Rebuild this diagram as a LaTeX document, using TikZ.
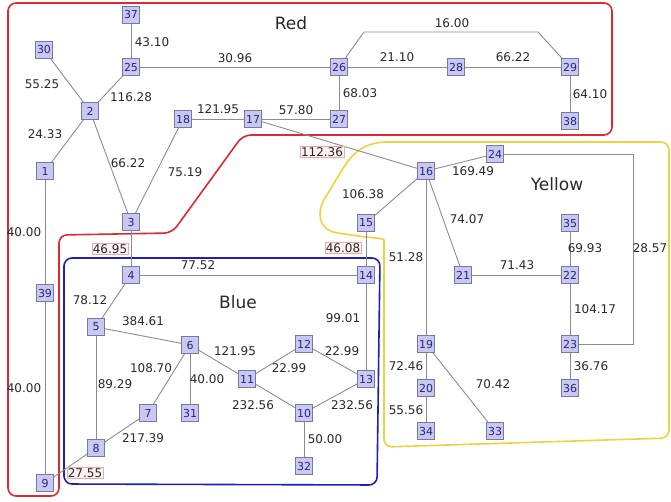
\documentclass[tikz,border=0pt]{standalone}
\usepackage{fontspec}
\setmainfont{DejaVu Sans}
\definecolor{vfill}{RGB}{200,200,242}
\definecolor{vdraw}{RGB}{120,120,165}
\definecolor{vtext}{RGB}{40,40,120}
\definecolor{edgecol}{RGB}{140,140,140}
\definecolor{labtext}{RGB}{40,40,40}
\definecolor{pinkdraw}{RGB}{232,170,170}
\definecolor{pinkfill}{RGB}{255,242,242}
\definecolor{redreg}{RGB}{222,40,50}
\definecolor{bluereg}{RGB}{30,30,185}
\definecolor{yelreg}{RGB}{240,210,60}
\tikzset{
  vtx/.style={draw=vdraw, fill=vfill, text=vtext, minimum size=17pt, inner sep=0.5pt,
    font=\fontsize{11}{11}\selectfont, line width=0.6pt},
  elab/.style={font=\fontsize{12}{12}\selectfont, text=labtext, inner sep=1pt},
  blab/.style={elab, draw=pinkdraw, fill=pinkfill, inner sep=1pt, line width=0.6pt},
  edge/.style={draw=edgecol, line width=0.9pt},
  region/.style={line width=1.6pt, rounded corners=8pt},
  title/.style={font=\fontsize{17}{17}\selectfont, text=labtext}
}
\begin{document}
\begin{tikzpicture}[x=1pt,y=-1pt]
\useasboundingbox (0,0) rectangle (671,502);
% regions
\draw[region, draw=redreg] (8,3) -- (612,3) -- (612,135) -- (243,135) -- (172,233) -- (59,235) -- (59,496) -- (8,496) -- cycle;
\draw[region, draw=bluereg] (64,258) -- (380,258) -- (377,485) -- (64,484) -- cycle;
\draw[line width=1.6pt, draw=yelreg, rounded corners=8pt] (669,142) -- (669,438) -- (384,447) -- (384,248)
  .. controls (384,238) and (370,238) .. (345,234)
  .. controls (318,230) and (316,212) .. (330,190)
  .. controls (345,165) and (355,142) .. (395,142) -- cycle;
% titles
\node[title] (tRed) at (291,23) {Red};
\node[title] (tYellow) at (557,184) {Yellow};
\node[title] (tBlue) at (238,302) {Blue};
% vertices
\node[vtx] (37) at (131,15) {37};
\node[vtx] (30) at (44,50) {30};
\node[vtx] (25) at (131,67) {25};
\node[vtx] (26) at (339,67) {26};
\node[vtx] (28) at (456,67) {28};
\node[vtx] (29) at (570,67) {29};
\node[vtx] (2) at (90,111) {2};
\node[vtx] (18) at (183,119) {18};
\node[vtx] (17) at (253,119) {17};
\node[vtx] (27) at (339,119) {27};
\node[vtx] (38) at (570,121) {38};
\node[vtx] (1) at (45,171) {1};
\node[vtx] (16) at (426,171) {16};
\node[vtx] (24) at (495,154) {24};
\node[vtx] (15) at (366,223) {15};
\node[vtx] (35) at (570,223) {35};
\node[vtx] (3) at (131,222) {3};
\node[vtx] (21) at (463,275) {21};
\node[vtx] (22) at (570,275) {22};
\node[vtx] (4) at (131,275) {4};
\node[vtx] (14) at (366,275) {14};
\node[vtx] (39) at (45,293) {39};
\node[vtx] (5) at (96,327) {5};
\node[vtx] (6) at (190,345) {6};
\node[vtx] (12) at (304,344) {12};
\node[vtx] (11) at (247,379) {11};
\node[vtx] (13) at (366,379) {13};
\node[vtx] (19) at (426,344) {19};
\node[vtx] (23) at (570,344) {23};
\node[vtx] (20) at (426,388) {20};
\node[vtx] (36) at (570,388) {36};
\node[vtx] (7) at (148,413) {7};
\node[vtx] (31) at (190,413) {31};
\node[vtx] (10) at (304,413) {10};
\node[vtx] (8) at (96,448) {8};
\node[vtx] (34) at (426,431) {34};
\node[vtx] (33) at (495,431) {33};
\node[vtx] (32) at (304,466) {32};
\node[vtx] (9) at (45,483) {9};
% helper coordinates
\coordinate (ta) at (364,32);
\coordinate (tb) at (538,32);
\coordinate (ra) at (633,154);
% edges
\draw[edge] (37) -- (25);
\draw[edge] (30) -- (2);
\draw[edge] (25) -- (2);
\draw[edge] (25) -- (26);
\draw[edge] (2) -- (1);
\draw[edge] (2) -- (3);
\draw[edge] (18) -- (3);
\draw[edge] (18) -- (17);
\draw[edge] (17) -- (27);
\draw[edge] (27) -- (26);
\draw[edge] (17) -- (16);
\draw[edge] (26) -- (28);
\draw[edge] (28) -- (29);
\draw[edge] (26) -- (ta) -- (tb) -- (29);
\draw[edge] (29) -- (38);
\draw[edge] (1) -- (39);
\draw[edge] (39) -- (9);
\draw[edge] (3) -- (4);
\draw[edge] (15) -- (14);
\draw[edge] (16) -- (15);
\draw[edge] (16) -- (24);
\draw[edge] (16) -- (21);
\draw[edge] (16) -- (19);
\draw[edge] (21) -- (22);
\draw[edge] (35) -- (22);
\draw[edge] (22) -- (23);
\draw[edge] (24) -- (ra) |- (23);
\draw[edge] (23) -- (36);
\draw[edge] (19) -- (20);
\draw[edge] (20) -- (34);
\draw[edge] (19) -- (33);
\draw[edge] (4) -- (14);
\draw[edge] (4) -- (5);
\draw[edge] (5) -- (6);
\draw[edge] (5) -- (8);
\draw[edge] (6) -- (7);
\draw[edge] (6) -- (31);
\draw[edge] (6) -- (11);
\draw[edge] (11) -- (12);
\draw[edge] (11) -- (10);
\draw[edge] (12) -- (13);
\draw[edge] (10) -- (13);
\draw[edge] (14) -- (13);
\draw[edge] (10) -- (32);
\draw[edge] (7) -- (8);
\draw[edge] (8) -- (9);
% edge labels
\node[elab] (l1) at (152,42) {43.10};
\node[elab] (l2) at (42,84) {55.25};
\node[elab] (l3) at (131,97) {116.28};
\node[elab] (l4) at (235,58) {30.96};
\node[elab] (l5) at (45,134) {24.33};
\node[elab] (l6) at (128,163) {66.22};
\node[elab] (l7) at (185,172) {75.19};
\node[elab] (l8) at (218,109) {121.95};
\node[elab] (l9) at (296,110) {57.80};
\node[blab] (l10) at (322,152) {112.36};
\node[elab] (l11) at (360,93) {68.03};
\node[elab] (l12) at (397,57) {21.10};
\node[elab] (l13) at (513,57) {66.22};
\node[elab] (l14) at (452,23) {16.00};
\node[elab] (l15) at (590,94) {64.10};
\node[elab] (l16) at (24,232) {40.00};
\node[elab] (l17) at (24,388) {40.00};
\node[blab] (l18) at (110,249) {46.95};
\node[blab] (l19) at (343,248) {46.08};
\node[elab] (l20) at (363,194) {106.38};
\node[elab] (l21) at (473,171) {169.49};
\node[elab] (l22) at (467,219) {74.07};
\node[elab] (l23) at (406,257) {51.28};
\node[elab] (l24) at (585,248) {69.93};
\node[elab] (l25) at (650,248) {28.57};
\node[elab] (l26) at (517,265) {71.43};
\node[elab] (l27) at (595,309) {104.17};
\node[elab] (l28) at (406,366) {72.46};
\node[elab] (l29) at (591,366) {36.76};
\node[elab] (l30) at (493,384) {70.42};
\node[elab] (l31) at (406,410) {55.56};
\node[elab] (l32) at (198,265) {77.52};
\node[elab] (l33) at (90,300) {78.12};
\node[elab] (l34) at (143,321) {384.61};
\node[elab] (l35) at (235,351) {121.95};
\node[elab] (l36) at (289,368) {22.99};
\node[elab] (l37) at (342,351) {22.99};
\node[elab] (l38) at (343,318) {99.01};
\node[elab] (l39) at (151,368) {108.70};
\node[elab] (l40) at (115,384) {89.29};
\node[elab] (l41) at (207,379) {40.00};
\node[elab] (l42) at (253,405) {232.56};
\node[elab] (l43) at (352,405) {232.56};
\node[elab] (l44) at (143,438) {217.39};
\node[elab] (l45) at (325,439) {50.00};
\node[blab] (l46) at (85,473) {27.55};
\end{tikzpicture}
\end{document}
